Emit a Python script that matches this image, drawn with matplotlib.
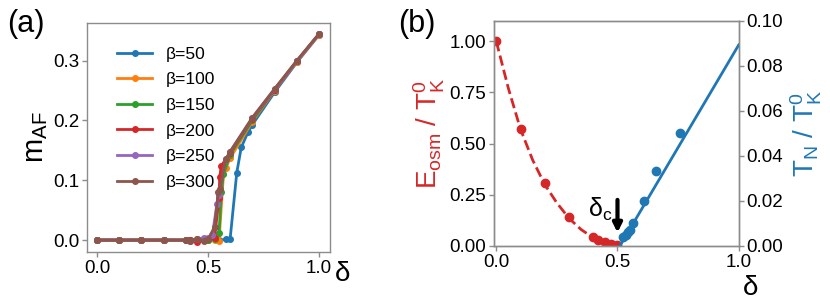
import matplotlib
matplotlib.use("Agg")
import matplotlib.pyplot as plt

plt.rcParams['font.family'] = ['Liberation Sans', 'DejaVu Sans']
plt.rcParams['mathtext.fontset'] = 'custom'
plt.rcParams['mathtext.rm'] = 'Liberation Sans'
plt.rcParams['mathtext.it'] = 'Liberation Sans'

# panel (a): staggered magnetization vs doping for several beta
low_d = [0, 0.1, 0.2, 0.3, 0.4, 0.42, 0.45, 0.48, 0.5]
d_b50 = low_d + [0.55, 0.58, 0.6, 0.63, 0.65, 0.68, 0.7, 0.8, 0.9, 1.0]
m_b50 = [0, 0, 0, 0, 0, 0, 0, 0, 0, 0, 0.001, 0.002, 0.113, 0.155, 0.18, 0.193, 0.247, 0.297, 0.343]
d_b100 = low_d + [0.53, 0.55, 0.57, 0.58, 0.6, 0.7, 0.8, 0.9, 1.0]
m_b100 = [0, 0, 0, 0, 0, 0, 0.001, 0, 0, 0, -0.001, 0.11, 0.12, 0.137, 0.198, 0.25, 0.298, 0.343]
d_b150 = low_d + [0.53, 0.55, 0.56, 0.57, 0.6, 0.7, 0.8, 0.9, 1.0]
m_b150 = [0, 0, 0, 0, 0, 0, 0, 0.001, 0, 0.002, 0.012, 0.08, 0.11, 0.143, 0.2, 0.251, 0.299, 0.344]
d_b200 = low_d + [0.53, 0.55, 0.553, 0.56, 0.6, 0.7, 0.8, 0.9, 1.0]
m_b200 = [0, 0, 0, 0, 0, 0, -0.003, 0, 0.001, 0.004, 0.07, 0.105, 0.124, 0.146, 0.203, 0.251, 0.299, 0.344]
d_b250 = low_d + [0.52, 0.54, 0.55, 0.58, 0.6, 0.7, 0.8, 0.9, 1.0]
m_b250 = [0, 0, 0, 0, 0, -0.002, 0.001, 0.004, 0.003, 0.008, 0.06, 0.075, 0.135, 0.148, 0.204, 0.252, 0.299, 0.344]
d_b300 = low_d + [0.53, 0.547, 0.554, 0.58, 0.6, 0.7, 0.8, 0.9, 1.0]
m_b300 = [0, 0, 0, 0, 0, -0.001, 0.002, -0.001, 0.001, 0.022, 0.081, 0.085, 0.135, 0.148, 0.205, 0.253, 0.3, 0.345]

series_a = [("β=50", d_b50, m_b50), ("β=100", d_b100, m_b100), ("β=150", d_b150, m_b150),
            ("β=200", d_b200, m_b200), ("β=250", d_b250, m_b250), ("β=300", d_b300, m_b300)]

# panel (b)
d_red = [0.0, 0.1, 0.2, 0.3, 0.4, 0.42, 0.45, 0.475, 0.5]
e_red = [1.0, 0.571, 0.306, 0.14, 0.042, 0.029, 0.018, 0.01, 0.005]
d_red_fit = [0.0, 0.05, 0.1, 0.15, 0.2, 0.25, 0.3, 0.35, 0.4, 0.45, 0.5]
e_red_fit = [1.0, 0.77, 0.57, 0.42, 0.30, 0.21, 0.135, 0.08, 0.04, 0.012, 0.0]
d_blue = [0.522, 0.535, 0.545, 0.55, 0.565, 0.609, 0.657, 0.759]
t_blue = [0.0039, 0.005, 0.0062, 0.0071, 0.010, 0.020, 0.0335, 0.050]
d_blue_fit = [0.51, 1.0]
t_blue_fit = [0.0, 0.0893]

fig = plt.figure(figsize=(8.3, 3.07), dpi=100)
ax1 = fig.add_axes([0.1048, 0.179, 0.2928, 0.746])
ax2 = fig.add_axes([0.595, 0.199, 0.295, 0.733])

for lab, d, m in series_a:
    ax1.plot(d, m, marker='o', markersize=4, linewidth=2, label=lab)
ax1.set_xlim(-0.045, 1.05)
ax1.set_ylim(-0.02, 0.363)
ax1.set_xticks([0.0, 0.5, 1.0])
ax1.set_yticks([0.0, 0.1, 0.2, 0.3])
ax1.set_ylabel(r'$\mathregular{m_{AF}}$', fontsize=21, labelpad=2)
ax1.set_xlabel('δ', fontsize=20)
ax1.xaxis.set_label_coords(1.05, -0.04)
ax1.legend(loc='upper left', bbox_to_anchor=(0.06, 0.965), frameon=False, fontsize=12.5,
           labelspacing=0.6, handletextpad=0.8)
fig.text(0.008, 0.895, '(a)', fontsize=22)

red = '#d62728'
blue = '#1f77b4'
ax2.plot(d_red_fit, e_red_fit, '--', color=red, linewidth=2)
ax2.plot(d_red, e_red, 'o', color=red, markersize=6)
ax2.set_xlim(-0.01, 1.0)
ax2.set_ylim(0, 1.1)
ax2.set_xticks([0.0, 0.5, 1.0])
ax2.set_yticks([0.0, 0.25, 0.5, 0.75, 1.0])
ax2.set_yticklabels(['0.00', '0.25', '0.50', '0.75', '1.00'])
ax2.set_ylabel(r'$\mathregular{E_{osm}\ /\ T_K^0}$', color=red, fontsize=20, labelpad=2)
ax2.set_xlabel('δ', fontsize=20)
ax2.xaxis.set_label_coords(1.05, -0.13)
ax2.annotate('', xy=(0.5, 0.065), xytext=(0.5, 0.225),
             arrowprops=dict(arrowstyle='-|>', color='black', lw=3, mutation_scale=13,
                             shrinkA=0, shrinkB=0))
ax2.text(0.43, 0.18, r'$\mathregular{\delta_c}$', fontsize=18, ha='center', va='center')

ax3 = ax2.twinx()
ax3.plot(d_blue_fit, t_blue_fit, '-', color=blue, linewidth=2)
ax3.plot(d_blue, t_blue, 'o', color=blue, markersize=6)
ax3.set_ylim(0, 0.1)
ax3.set_yticks([0.0, 0.02, 0.04, 0.06, 0.08, 0.10])
ax3.set_yticklabels(['0.00', '0.02', '0.04', '0.06', '0.08', '0.10'])
ax3.set_ylabel(r'$\mathregular{T_N\ /\ T_K^0}$', color=blue, fontsize=20, labelpad=4)
fig.text(0.48, 0.895, '(b)', fontsize=22)

for ax in (ax1, ax2, ax3):
    for sp in ax.spines.values():
        sp.set_color('0.55')
        sp.set_linewidth(1.0)
    ax.tick_params(labelsize=13.5, color='0.55', length=3.5, width=1, pad=2)

fig.savefig('out.png', dpi=100)
